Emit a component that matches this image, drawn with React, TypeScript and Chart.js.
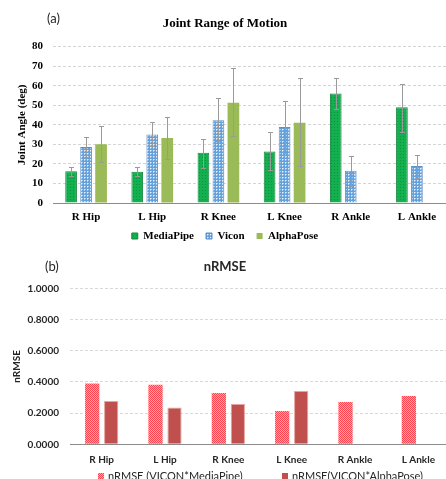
import React, { useEffect, useRef } from "react";
import { Chart, registerables } from "chart.js";

Chart.register(...registerables);

// ---------- data ----------
const categories = ["R Hip", "L Hip", "R Knee", "L Knee", "R Ankle", "L Ankle"];

const mediaPipe = [16.3, 16.0, 25.7, 26.3, 56.0, 49.0];
const mediaPipeLow = [14.0, 14.0, 18.0, 16.8, 48.0, 36.2];
const mediaPipeHigh = [18.5, 18.5, 32.8, 36.3, 64.0, 60.8];

const vicon = [28.7, 35.0, 42.3, 38.9, 16.5, 18.9];
const viconLow = [23.5, 29.0, 31.5, 25.6, 8.7, 13.0];
const viconHigh = [34.0, 41.3, 53.6, 52.0, 23.8, 24.7];

const alphaPose = [30.1, 33.2, 51.3, 41.1, null, null];
const alphaPoseLow = [21.0, 22.5, 34.4, 19.0, null, null];
const alphaPoseHigh = [39.5, 44.0, 68.8, 64.1, null, null];

const nrmseMediaPipe = [0.39, 0.383, 0.329, 0.214, 0.271, 0.31];
const nrmseAlphaPose = [0.278, 0.237, 0.259, 0.342, null, null];

const seriesNames = ["MediaPipe", "Vicon", "AlphaPose"];
const nrmseNames = ["nRMSE (VICON*MediaPipe)", "nRMSE(VICON*AlphaPose)"];

const angleRange = { min: 0, max: 80, step: 10 };
const nrmseRange = { min: 0, max: 1, step: 0.2 };

// ---------- helpers ----------
function makePattern(size: number, draw: (c: CanvasRenderingContext2D) => void, fallback: string) {
  const cv = document.createElement("canvas");
  cv.width = size;
  cv.height = size;
  const c = cv.getContext("2d");
  if (!c) return fallback;
  draw(c);
  const ctx = document.createElement("canvas").getContext("2d");
  const p = ctx ? ctx.createPattern(cv, "repeat") : null;
  return p || fallback;
}

const errorBarPlugin = {
  id: "errorBars",
  afterDatasetsDraw(chart: any) {
    const ctx = chart.ctx;
    const yScale = chart.scales.y;
    chart.data.datasets.forEach((ds: any, di: number) => {
      if (!ds.errLow) return;
      const meta = chart.getDatasetMeta(di);
      meta.data.forEach((bar: any, i: number) => {
        const lo = ds.errLow[i];
        const hi = ds.errHigh[i];
        if (lo == null || hi == null || ds.data[i] == null) return;
        const x = Math.round(bar.x) + 0.5;
        const y1 = Math.round(yScale.getPixelForValue(lo)) + 0.5;
        const y2 = Math.round(yScale.getPixelForValue(hi)) + 0.5;
        ctx.save();
        ctx.strokeStyle = "#9a9a9a";
        ctx.lineWidth = 1;
        ctx.beginPath();
        ctx.moveTo(x, y1);
        ctx.lineTo(x, y2);
        ctx.moveTo(x - 2.5, y2);
        ctx.lineTo(x + 2.5, y2);
        ctx.moveTo(x - 2.5, y1);
        ctx.lineTo(x + 2.5, y1);
        ctx.stroke();
        ctx.restore();
      });
    });
  },
};

// moves the built-in legend so its row is centred on a given y
const legendNudgePlugin = {
  id: "legendNudge",
  afterLayout(chart: any, _args: any, opts: any) {
    const lg = chart.legend;
    if (!lg || !opts || opts.centerY == null) return;
    const pad = lg.options.labels.padding;
    const fs = lg.options.labels.font.size || 11;
    const current = lg.top + pad + fs / 2;
    const dy = opts.centerY - current;
    lg.top += dy;
    lg.bottom += dy;
  },
};

const customLegendPlugin = {
  id: "customLegend",
  afterDraw(chart: any, _args: any, opts: any) {
    if (!opts || !opts.xs) return;
    const ctx = chart.ctx;
    ctx.save();
    ctx.font = opts.font;
    ctx.textBaseline = "middle";
    chart.data.datasets.forEach((ds: any, i: number) => {
      const x = opts.xs[i];
      const y = opts.y;
      ctx.fillStyle = ds.backgroundColor;
      ctx.fillRect(x, y - 3, 6, 6);
      ctx.fillStyle = opts.color;
      ctx.fillText(ds.label, x + 10, y);
    });
    ctx.restore();
  },
};

const serif = "'Liberation Serif', 'DejaVu Serif', serif";
const sans = "Lato, 'Open Sans', sans-serif";

export default function App() {
  const topRef = useRef<HTMLCanvasElement>(null);
  const botRef = useRef<HTMLCanvasElement>(null);

  useEffect(() => {
    const mpPat = makePattern(3, (c) => {
      c.fillStyle = "#12b04f";
      c.fillRect(0, 0, 3, 3);
      c.fillStyle = "#0c9340";
      c.fillRect(1, 1, 1, 1);
    }, "#12b04f");
    const viPat = makePattern(3, (c) => {
      c.fillStyle = "#64a1da";
      c.fillRect(0, 0, 3, 3);
      c.fillStyle = "#e8f1fa";
      c.fillRect(0, 0, 1, 1);
      c.fillStyle = "#a9cbec";
      c.fillRect(1, 0, 1, 1);
      c.fillRect(0, 1, 1, 1);
    }, "#8fbbe4");
    const redPat = makePattern(2, (c) => {
      c.fillStyle = "#ffa8aa";
      c.fillRect(0, 0, 2, 2);
      c.fillStyle = "#ff4450";
      c.fillRect(0, 0, 1, 1);
      c.fillRect(1, 1, 1, 1);
    }, "#ff7c80");

    const top = new Chart(topRef.current as HTMLCanvasElement, {
      type: "bar",
      data: {
        labels: categories,
        datasets: [
          {
            label: seriesNames[0],
            data: mediaPipe,
            backgroundColor: mpPat as any,
            borderColor: "#17873d",
            borderWidth: 1,
            errLow: mediaPipeLow,
            errHigh: mediaPipeHigh,
          } as any,
          {
            label: seriesNames[1],
            data: vicon,
            backgroundColor: viPat as any,
            borderColor: "#5b8fc8",
            borderWidth: 1,
            errLow: viconLow,
            errHigh: viconHigh,
          } as any,
          {
            label: seriesNames[2],
            data: alphaPose,
            backgroundColor: "#9bbb59",
            borderWidth: 0,
            errLow: alphaPoseLow,
            errHigh: alphaPoseHigh,
          } as any,
        ],
      },
      options: {
        responsive: false,
        animation: false,
        layout: { padding: { left: 0, right: 14, top: 0, bottom: 0 } },
        datasets: { bar: { categoryPercentage: 0.68, barPercentage: 0.78 } },
        plugins: {
          title: {
            display: true,
            text: "Joint Range of Motion",
            color: "#000",
            font: { family: serif, size: 13, weight: "bold" },
            padding: { top: 16, bottom: 15 },
          },
          legend: {
            position: "bottom",
            labels: {
              boxWidth: 6,
              boxHeight: 6,
              padding: 12,
              color: "#000",
              font: { family: serif, size: 11, weight: "bold" },
            },
          },
          legendNudge: { centerY: 236 },
          tooltip: { enabled: false },
        },
        scales: {
          x: {
            grid: { display: false, drawTicks: false },
            border: { display: true, color: "#8c8c8c" },
            ticks: {
              color: "#000",
              padding: 8,
              maxRotation: 0,
              font: { family: serif, size: 11, weight: "bold" },
            },
            afterFit: (s: any) => {
              s.height = 22;
            },
          },
          y: {
            min: angleRange.min,
            max: angleRange.max,
            ticks: {
              stepSize: angleRange.step,
              color: "#000",
              padding: 10,
              font: { family: serif, size: 11, weight: "bold" },
            },
            grid: { color: "#d4d4d4", drawTicks: false, lineWidth: 1 },
            border: { display: false, dash: [3, 2] },
            title: {
              display: true,
              text: "Joint Angle (deg)",
              color: "#000",
              font: { family: serif, size: 11, weight: "bold" },
              padding: { top: 16, bottom: 0 },
            },
            afterFit: (s: any) => {
              s.width = 53;
            },
          },
        },
      } as any,
      plugins: [errorBarPlugin, legendNudgePlugin],
    });

    const bot = new Chart(botRef.current as HTMLCanvasElement, {
      type: "bar",
      data: {
        labels: categories,
        datasets: [
          {
            label: nrmseNames[0],
            data: nrmseMediaPipe,
            backgroundColor: redPat as any,
            borderWidth: 0,
          },
          {
            label: nrmseNames[1],
            data: nrmseAlphaPose,
            backgroundColor: "#c0504d",
            borderColor: "#e6a3a1",
            borderWidth: 1,
          },
        ],
      },
      options: {
        responsive: false,
        animation: false,
        layout: { padding: { left: 0, right: 14, top: 0, bottom: 21.7 } },
        datasets: { bar: { categoryPercentage: 0.6, barPercentage: 0.75 } },
        plugins: {
          title: {
            display: true,
            text: "nRMSE",
            color: "#262626",
            font: { family: sans, size: 13, weight: "bold" },
            padding: { top: 7.2, bottom: 13.7 },
          },
          legend: { display: false },
          tooltip: { enabled: false },
          customLegend: { xs: [98, 282], y: 224, font: `11px ${sans}`, color: "#262626" },
        },
        scales: {
          x: {
            grid: { display: false, drawTicks: false },
            border: { display: true, color: "#8c8c8c" },
            ticks: {
              color: "#262626",
              padding: 9,
              maxRotation: 0,
              font: { family: sans, size: 10, weight: "bold" },
            },
            afterFit: (s: any) => {
              s.height = 26;
            },
          },
          y: {
            min: nrmseRange.min,
            max: nrmseRange.max,
            ticks: {
              stepSize: nrmseRange.step,
              color: "#262626",
              padding: 11,
              font: { family: sans, size: 10, weight: "bold" },
              callback: (v: any) => Number(v).toFixed(4),
            },
            grid: { color: "#d9d9d9", drawTicks: false, lineWidth: 1 },
            border: { display: false, dash: [3, 2] },
            title: {
              display: true,
              text: "nRMSE",
              color: "#262626",
              font: { family: sans, size: 10, weight: "bold" },
              padding: { top: 11, bottom: 0 },
            },
            afterFit: (s: any) => {
              s.width = 70;
            },
          },
        },
      } as any,
      plugins: [customLegendPlugin],
    });

    return () => {
      top.destroy();
      bot.destroy();
    };
  }, []);

  return (
    <div
      style={{
        position: "fixed",
        left: 0,
        top: 0,
        width: 446,
        height: 479,
        overflow: "hidden",
        background: "#fff",
      }}
    >
      <canvas
        ref={topRef}
        width={464}
        height={258}
        style={{ position: "absolute", left: 0, top: 0, width: 464, height: 258 }}
      />
      <canvas
        ref={botRef}
        width={464}
        height={240}
        style={{ position: "absolute", left: 0, top: 252, width: 464, height: 240 }}
      />
      <div
        style={{
          position: "absolute",
          left: 47,
          top: 10,
          font: `13px ${sans}`,
          lineHeight: "16px",
          color: "#262626",
        }}
      >
        (a)
      </div>
      <div
        style={{
          position: "absolute",
          left: 45,
          top: 258,
          font: `13px ${sans}`,
          lineHeight: "16px",
          color: "#262626",
        }}
      >
        (b)
      </div>
    </div>
  );
}
